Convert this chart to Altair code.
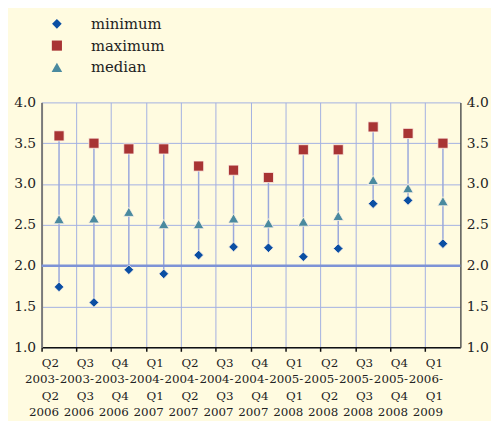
import altair as alt
import pandas as pd

periods = ["Q2|2003-|Q2|2006", "Q3|2003-|Q3|2006", "Q4|2003-|Q4|2006", "Q1|2004-|Q1|2007",
           "Q2|2004-|Q2|2007", "Q3|2004-|Q3|2007", "Q4|2004-|Q4|2007", "Q1|2005-|Q1|2008",
           "Q2|2005-|Q2|2008", "Q3|2005-|Q3|2008", "Q4|2005-|Q4|2008", "Q1|2006-|Q1|2009"]
min_vals = [1.74, 1.55, 1.95, 1.90, 2.13, 2.23, 2.22, 2.11, 2.21, 2.76, 2.80, 2.27]
max_vals = [3.59, 3.50, 3.43, 3.43, 3.22, 3.17, 3.08, 3.42, 3.42, 3.70, 3.62, 3.50]
med_vals = [2.57, 2.58, 2.66, 2.51, 2.51, 2.58, 2.52, 2.54, 2.61, 3.05, 2.95, 2.79]
series = ["minimum", "maximum", "median"]

wide = pd.DataFrame({"period": periods, "minimum": min_vals, "maximum": max_vals, "median": med_vals})
long = wide.melt(id_vars="period", value_vars=series, var_name="series", value_name="value")

FONT = "DejaVu Serif"
GRID = "#a3b0e2"

xenc = alt.X("period:N", sort=periods, title=None,
             scale=alt.Scale(paddingInner=0, paddingOuter=0),
             axis=alt.Axis(bandPosition=0, grid=True, gridColor=GRID, gridWidth=1,
                           domainColor="#111", domainWidth=1.5, tickColor="#111", tickSize=4,
                           tickWidth=1.5, labelAngle=0, labelFont=FONT, labelFontSize=12,
                           labelColor="#222", labelPadding=6, labelLineHeight=16.7,
                           labelBaseline="top", labelExpr="split(datum.label, '|')"))

yscale = alt.Scale(domain=[1, 4], nice=False, zero=False)
yvals = [1.0, 1.5, 2.0, 2.5, 3.0, 3.5, 4.0]

left_axis = alt.Axis(values=yvals, format=".1f", grid=True, gridColor=GRID, gridWidth=1,
                     domainColor="#7a7a7a", domainWidth=2, ticks=False, labelFont=FONT,
                     labelFontSize=14, labelColor="#222", labelPadding=6)
right_axis = alt.Axis(values=yvals, format=".1f", orient="right", grid=False,
                      domainColor="#555", domainWidth=1.5, ticks=False, labelFont=FONT,
                      labelFontSize=14, labelColor="#222", labelPadding=6)

base = alt.Chart(wide)

rules = base.mark_rule(color="#9aa8dc", strokeWidth=1.5).encode(
    x=alt.X("period:N", sort=periods, bandPosition=0.5, title=None,
            scale=alt.Scale(paddingInner=0, paddingOuter=0)),
    y=alt.Y("minimum:Q", scale=yscale, axis=left_axis, title=None),
    y2="maximum:Q",
)

two_line = alt.Chart(pd.DataFrame({"v": [2.0]})).mark_rule(color="#7e93d6", strokeWidth=2.5).encode(
    y=alt.Y("v:Q", scale=yscale, axis=right_axis, title=None)
)

points = alt.Chart(long).mark_point(filled=True, opacity=1, stroke="#fff4e8", strokeWidth=0.8).encode(
    x=xenc,
    y=alt.Y("value:Q", scale=yscale, axis=None, title=None),
    color=alt.Color("series:N", sort=series,
                    scale=alt.Scale(domain=series, range=["#0b4fa3", "#a83434", "#4a8a9f"]),
                    legend=alt.Legend(title=None, orient="none", legendX=8, legendY=-87,
                                      labelFont=FONT, labelFontSize=15, labelColor="#222",
                                      labelOffset=27, rowPadding=6, symbolSize=95,
                                      symbolStrokeWidth=0)),
    shape=alt.Shape("series:N", sort=series,
                    scale=alt.Scale(domain=series, range=["diamond", "square", "triangle-up"])),
    size=alt.Size("series:N", sort=series,
                  scale=alt.Scale(domain=series, range=[95, 115, 110]), legend=None),
)

chart = alt.layer(rules, two_line, points).resolve_axis(y="independent").properties(
    width=424, height=248,
    autosize=alt.AutoSizeParams(type="none"),
    padding={"left": 34, "top": 93, "right": 31, "bottom": 72},
    background="#fffbe0",
).configure_view(stroke=None)

chart.save("out.html", embed_options={"renderer": "svg", "actions": False})
